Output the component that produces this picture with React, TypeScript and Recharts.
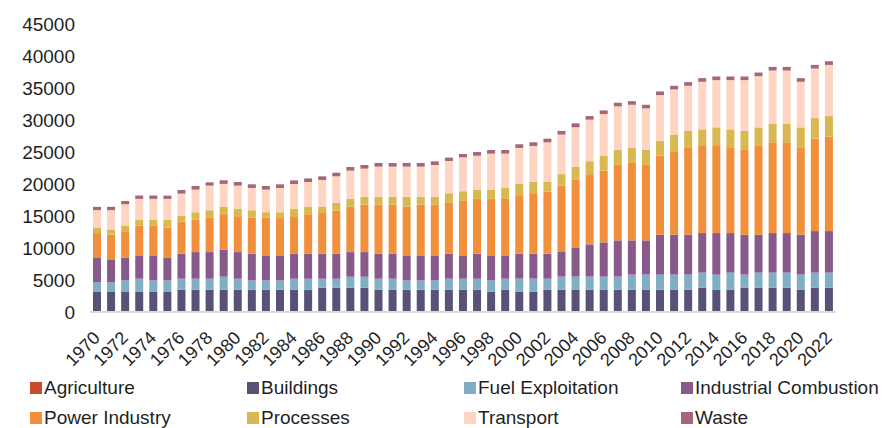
import React from "react";
import { BarChart, Bar, XAxis, YAxis, Legend } from "recharts";

const years = [
  "1970","1971","1972","1973","1974","1975","1976","1977","1978","1979",
  "1980","1981","1982","1983","1984","1985","1986","1987","1988","1989",
  "1990","1991","1992","1993","1994","1995","1996","1997","1998","1999",
  "2000","2001","2002","2003","2004","2005","2006","2007","2008","2009",
  "2010","2011","2012","2013","2014","2015","2016","2017","2018","2019",
  "2020","2021","2022",
];

const agriculture = [
  10,10,10,10,10,10,10,10,10,10,10,10,10,10,10,10,10,10,10,10,
  10,10,10,10,10,10,10,10,10,10,20,20,20,20,20,20,20,20,20,20,
  20,20,20,20,20,20,20,20,20,20,20,20,20,
];
const buildings = [
  3120,3120,3120,3120,3120,3120,3480,3480,3480,3480,
  3480,3480,3480,3480,3480,3480,3790,3790,3790,3790,
  3480,3480,3480,3480,3480,3480,3480,3480,3170,3480,
  3170,3170,3480,3480,3480,3480,3480,3480,3480,3480,
  3480,3480,3480,3790,3480,3480,3790,3790,3790,3790,
  3480,3790,3790,
];
const fuelExploitation = [
  1510,1510,1820,2080,1820,1820,1710,1710,1710,2030,
  1710,1450,1450,1450,1710,1710,1400,1400,1710,1710,
  1710,1710,1450,1450,1450,1710,1710,1710,1770,1710,
  2030,2030,1710,2030,2030,2030,2030,2030,2340,2340,
  2340,2340,2340,2340,2340,2650,2030,2340,2340,2340,
  2340,2340,2340,
];
const industrialCombustion = [
  3900,3590,3580,3640,3900,3580,3900,4160,4160,4210,
  4160,4160,3900,3900,3900,3900,3900,3900,3850,3850,
  3900,3900,3900,3900,3900,3900,3640,3900,3900,3640,
  3900,3900,3900,3850,4470,5040,5350,5660,5350,5350,
  6230,6230,6230,6180,6490,6180,6230,5920,6180,6180,
  6230,6490,6490,
];
const powerIndustry = [
  3790,3840,4100,4680,4680,4680,5040,5040,5350,5560,
  5610,5610,5870,5870,5870,6180,6490,6750,7120,7430,
  7690,7690,7640,7950,7950,7950,8520,8570,8830,8830,
  9140,9450,9710,10390,10650,10960,11220,11790,12100,11790,
  12360,12940,13560,13610,13610,13300,13250,13870,14180,14180,
  13560,14440,14750,
];
const processes = [
  880,830,880,880,880,1190,880,1190,1190,1190,
  1190,1190,880,880,1190,1190,880,1190,1190,1190,
  1190,1190,1510,1190,1190,1510,1510,1450,1450,1770,
  1770,1770,1510,1770,2030,2030,2340,2340,2340,2340,
  2340,2650,2650,2600,2910,2910,2960,2910,2910,2910,
  3220,3220,3220,
];
const transport = [
  2700,3010,3330,3270,3270,3270,3480,3530,3840,3530,
  3580,3480,3530,3790,3840,3840,4160,4160,4420,4420,
  4730,4730,4730,4730,4990,5040,5300,5300,5610,5300,
  5610,5610,6180,6180,6180,6490,6490,6810,6750,6490,
  7120,7120,7070,7430,7380,7690,7950,8000,8310,8310,
  7120,7740,8000,
];
const waste = [
  520,520,520,520,520,520,570,570,520,570,
  570,570,570,570,570,570,570,570,570,570,
  570,570,570,570,570,520,520,570,570,570,
  570,570,570,570,620,570,570,570,570,570,
  570,570,570,570,570,570,570,570,570,570,
  570,570,570,
];

const yTicks = [0, 5000, 10000, 15000, 20000, 25000, 30000, 35000, 40000, 45000];

const series = [
  { key: "agriculture", name: "Agriculture", color: "#cb4a2b", values: agriculture },
  { key: "buildings", name: "Buildings", color: "#585277", values: buildings },
  { key: "fuel", name: "Fuel Exploitation", color: "#80afc4", values: fuelExploitation },
  { key: "industrial", name: "Industrial Combustion", color: "#875a8a", values: industrialCombustion },
  { key: "power", name: "Power Industry", color: "#f28f3b", values: powerIndustry },
  { key: "processes", name: "Processes", color: "#d9b851", values: processes },
  { key: "transport", name: "Transport", color: "#fed5c2", values: transport },
  { key: "waste", name: "Waste", color: "#a66679", values: waste },
];

const data = years.map((year, i) => {
  const row: Record<string, string | number> = { year };
  series.forEach((s) => {
    row[s.key] = s.values[i];
  });
  return row;
});

const FONT = "'Liberation Sans', Arial, sans-serif";
const TEXT = "#1f1f1f";

const YearTick = (props: any) => {
  const { x, y, payload } = props;
  return (
    <g transform={`translate(${x + 4},${y + 19})`}>
      <text
        transform="rotate(-45)"
        textAnchor="end"
        fontSize={18}
        fontFamily={FONT}
        fill={TEXT}
      >
        {payload.value}
      </text>
    </g>
  );
};

const LegendContent = () => (
  <div
    style={{
      position: "relative",
      width: 884,
      height: 56,
      fontFamily: FONT,
      fontSize: 19,
      color: TEXT,
    }}
  >
    {series.map((s, i) => {
      const col = i % 4;
      const row = Math.floor(i / 4);
      return (
        <div
          key={s.key}
          style={{
            position: "absolute",
            left: 30 + col * 217,
            top: 6 + row * 30,
            display: "flex",
            alignItems: "center",
            whiteSpace: "nowrap",
            lineHeight: "20px",
          }}
        >
          <span
            style={{
              display: "inline-block",
              width: 12,
              height: 12,
              background: s.color,
              marginRight: 2,
            }}
          />
          <span>{s.name}</span>
        </div>
      );
    })}
  </div>
);

export default function App() {
  return (
    <div style={{ position: "absolute", left: 0, top: 0, width: 884, height: 428, background: "#fff" }}>
      <BarChart
        width={884}
        height={428}
        data={data}
        margin={{ top: 24, right: 48, bottom: 0, left: 0 }}
        barSize={8}
      >
        <XAxis
          dataKey="year"
          interval={1}
          height={60}
          tickLine={false}
          axisLine={{ stroke: "#d9d9d9", strokeWidth: 2 }}
          tick={<YearTick />}
        />
        <YAxis
          width={90}
          domain={[0, 45000]}
          ticks={yTicks}
          axisLine={false}
          tickLine={false}
          tickMargin={9}
          tick={{ fontSize: 19, fontFamily: FONT, fill: TEXT }}
        />
        <Legend
          verticalAlign="bottom"
          content={<LegendContent />}
          wrapperStyle={{ left: 0, top: 372, bottom: "auto", width: 884, height: 56 }}
        />
        {series.map((s) => (
          <Bar
            key={s.key}
            dataKey={s.key}
            name={s.name}
            stackId="a"
            fill={s.color}
            isAnimationActive={false}
          />
        ))}
      </BarChart>
    </div>
  );
}
